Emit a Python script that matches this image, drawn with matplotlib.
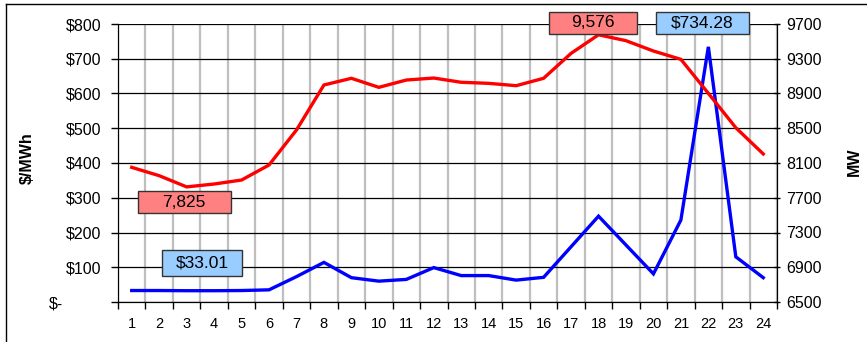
import matplotlib.pyplot as plt
from matplotlib.patches import Rectangle
from matplotlib.lines import Line2D
from matplotlib.transforms import ScaledTranslation

plt.rcParams['font.family'] = ['Liberation Sans', 'DejaVu Sans']

hours = list(range(1, 25))
price = [33.01, 33.0, 32.5, 32.5, 33.0, 35.0, 73.0, 114.0, 70.0, 60.0, 65.0, 99.0,
         76.0, 76.0, 63.0, 71.0, 159.0, 247.0, 164.0, 81.0, 236.0, 734.28, 130.0, 70.0]
load = [8050, 7954, 7825, 7858, 7904, 8077, 8480, 8998, 9075, 8971, 9055, 9078,
        9029, 9017, 8990, 9075, 9362, 9576, 9508, 9389, 9293, 8902, 8506, 8204]

price_ticks = list(range(0, 801, 100))
price_labels = ['$-'] + ['$%d' % v for v in price_ticks[1:]]
mw_ticks = list(range(6500, 9701, 400))

fig = plt.figure(figsize=(8.67, 3.42), dpi=100)
W, H = 867, 342
ax = fig.add_axes([118 / W, 40 / H, 659 / W, 278 / H])
ax2 = ax.twinx()

# price on the left axis
ax.plot(hours, price, color='#0000FF', lw=2.4, solid_joinstyle='miter', zorder=3)
ax.set_xlim(0.5, 24.5)
ax.set_ylim(0, 800)
ax.set_yticks(price_ticks)
ax.set_yticklabels(price_labels)
ax.set_xticks(hours)
ax.set_xticks([h + 0.5 for h in range(0, 25)], minor=True)
ax.tick_params(axis='x', which='major', length=0, labelsize=10.5, pad=11)
ax.tick_params(axis='x', which='minor', length=5, width=1, direction='out')
ax.tick_params(axis='y', length=5, width=1, direction='out', labelsize=11.5, pad=7)
ax.grid(axis='y', color='black', lw=0.9)
ax.grid(axis='x', which='minor', color='#BFBFBF', lw=1.6)
ax.set_axisbelow(True)
ax.spines['top'].set_visible(False)

# shift the zero label left, like the accounting format
zero_lbl = ax.get_yticklabels()[0]
zero_lbl.set_transform(zero_lbl.get_transform() + ScaledTranslation(-0.38, 0, fig.dpi_scale_trans))

# load on the right axis
ax2.plot(hours, load, color='#FF0000', lw=2.4, solid_joinstyle='miter', zorder=3)
ax2.set_ylim(6500, 9700)
ax2.set_yticks(mw_ticks)
ax2.tick_params(axis='y', length=5, width=1, direction='inout', labelsize=11.5, pad=4)
ax2.spines['top'].set_visible(False)

# value call-out boxes
boxes = [
    (0.030, 0.171, 0.320, 0.398, '#FF8080', '7,825'),
    (0.067, 0.188, 0.094, 0.187, '#99CCFF', '$33.01'),
    (0.654, 0.788, 0.964, 1.044, '#FF8080', '9,576'),
    (0.816, 0.958, 0.964, 1.044, '#99CCFF', '$734.28'),
]
for x0, x1, y0, y1, fc, txt in boxes:
    ax2.add_patch(Rectangle((x0, y0), x1 - x0, y1 - y0, transform=ax2.transAxes,
                            facecolor=fc, edgecolor='#333333', lw=1, clip_on=False, zorder=5))
    ax2.text((x0 + x1) / 2, (y0 + y1) / 2, txt, transform=ax2.transAxes,
             ha='center', va='center', fontsize=12.5, zorder=6)

fig.text(27 / W, 1 - 158 / H, '$/MWh', rotation=90, ha='center', va='center',
         fontsize=11.5, fontweight='bold')
fig.text(854 / W, 1 - 162 / H, 'MW', rotation=90, ha='center', va='center',
         fontsize=11.5, fontweight='bold')

# outer chart border
fig.add_artist(Line2D([5.5 / W, 5.5 / W], [0, 1 - 3.5 / H], color='black', lw=1))
fig.add_artist(Line2D([5.5 / W, 1], [1 - 3.5 / H, 1 - 3.5 / H], color='black', lw=1))

fig.savefig('out.png', dpi=100)
